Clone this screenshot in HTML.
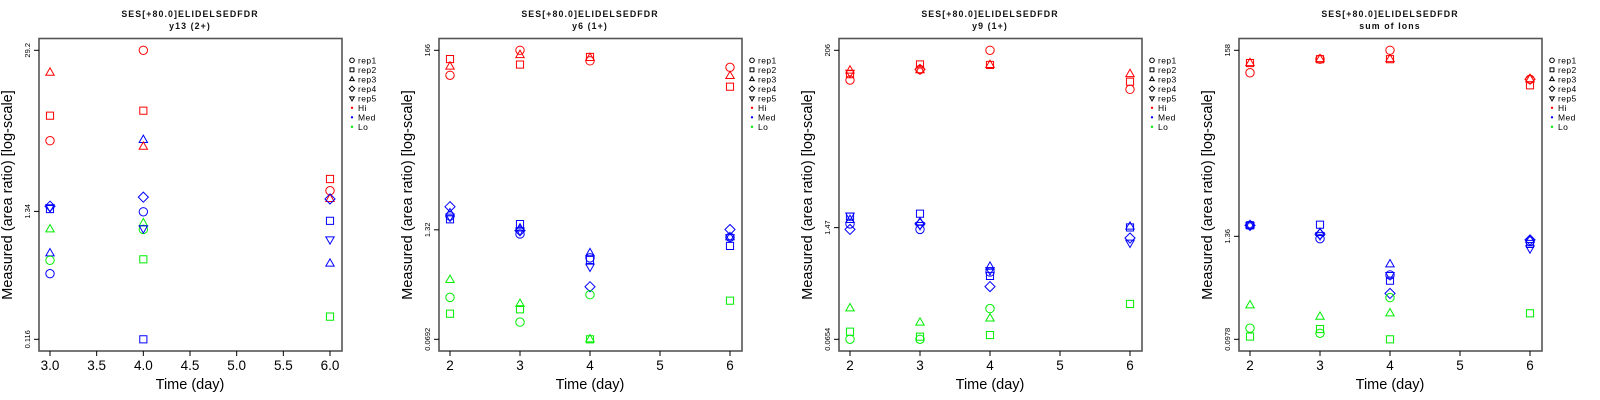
<!DOCTYPE html>
<html><head><meta charset="utf-8">
<style>
html,body{margin:0;padding:0;background:#fff;}
svg{display:block;font-family:"Liberation Sans",sans-serif;}
</style></head>
<body>
<svg id="chart" width="1600" height="400" viewBox="0 0 1600 400" xmlns="http://www.w3.org/2000/svg"></svg>
<script>
// ---- data ----
const panelTitles = ["y13 (2+)", "y6 (1+)", "y9 (1+)", "sum of Ions"];
const peptide = "SES[+80.0]ELIDELSEDFDR";
const xTicks1 = [3.0, 3.5, 4.0, 4.5, 5.0, 5.5, 6.0];
const xTicksN = [2, 3, 4, 5, 6];
const yMin = [0.116, 0.0692, 0.0654, 0.0978];
const yMid = [1.34, 1.32, 1.47, 1.36];
const yMax = [29.2, 166, 206, 158];
const groups = ["Hi", "Med", "Lo"];
const reps = ["rep1", "rep2", "rep3", "rep4", "rep5"];
// rows: [group, rep (1-5), day, value]
const panel1 = [
 ["Hi",3,3,19.0],["Hi",2,3,8.36],["Hi",1,3,5.18],
 ["Med",4,3,1.48],["Med",2,3,1.40],["Med",5,3,1.45],["Lo",3,3,0.951],["Med",3,3,0.60],["Lo",1,3,0.526],["Med",1,3,0.407],
 ["Hi",1,4,29.2],["Hi",2,4,9.2],["Med",3,4,5.25],["Hi",3,4,4.62],["Med",4,4,1.76],["Med",1,4,1.33],["Lo",3,4,1.066],["Lo",1,4,0.95],["Med",5,4,0.97],["Lo",2,4,0.536],["Med",2,4,0.116],
 ["Hi",2,6,2.49],["Hi",1,6,1.99],["Hi",3,6,1.70],["Med",4,6,1.70],["Med",2,6,1.12],["Med",5,6,0.785],["Med",3,6,0.493],["Lo",2,6,0.179]
];
const panel2 = [
 ["Hi",2,2,131],["Hi",3,2,107],["Hi",1,2,84.7],["Med",4,2,2.46],["Med",3,2,2.06],["Med",1,2,1.92],["Med",5,2,1.88],["Med",2,2,1.75],["Lo",3,2,0.342],["Lo",1,2,0.214],["Lo",2,2,0.138],
 ["Hi",1,3,166],["Hi",3,3,146],["Hi",2,3,113],["Med",2,3,1.54],["Med",3,3,1.37],["Med",4,3,1.29],["Med",5,3,1.29],["Med",1,3,1.18],["Lo",3,3,0.179],["Lo",2,3,0.155],["Lo",1,3,0.110],
 ["Hi",2,4,139],["Hi",3,4,135],["Hi",1,4,125],["Med",3,4,0.702],["Med",1,4,0.62],["Med",2,4,0.586],["Med",5,4,0.489],["Med",4,4,0.285],["Lo",1,4,0.230],["Lo",2,4,0.0692],["Lo",3,4,0.0692],
 ["Hi",1,6,105],["Hi",3,6,83],["Hi",2,6,62.3],["Med",4,6,1.33],["Med",3,6,1.08],["Med",1,6,1.08],["Med",5,6,1.08],["Med",2,6,0.854],["Lo",2,6,0.196]
];
const panel3 = [
 ["Hi",3,2,117],["Hi",5,2,110],["Hi",2,2,106],["Hi",1,2,90],["Med",5,2,2.05],["Med",2,2,2.0],["Med",3,2,1.82],["Med",1,2,1.63],["Med",4,2,1.40],["Lo",3,2,0.155],["Lo",2,2,0.0808],["Lo",1,2,0.0654],
 ["Hi",2,3,139],["Hi",1,3,121],["Hi",3,3,118],["Hi",4,3,121],["Med",2,3,2.17],["Med",3,3,1.70],["Med",4,3,1.63],["Med",5,3,1.58],["Med",1,3,1.40],["Lo",3,3,0.104],["Lo",2,3,0.0703],["Lo",1,3,0.0654],
 ["Hi",1,4,206],["Hi",2,4,137],["Hi",3,4,137],["Med",3,4,0.494],["Med",5,4,0.45],["Med",1,4,0.427],["Med",2,4,0.383],["Med",4,4,0.284],["Lo",1,4,0.154],["Lo",3,4,0.117],["Lo",2,4,0.0737],
 ["Hi",3,6,106],["Hi",2,6,85.9],["Hi",1,6,69.4],["Med",3,6,1.51],["Med",2,6,1.48],["Med",4,6,1.10],["Med",5,6,0.967],["Lo",2,6,0.175]
];
const panel4 = [
 ["Hi",2,2,114],["Hi",3,2,114],["Hi",1,2,89],["Med",1,2,1.80],["Med",2,2,1.80],["Med",3,2,1.80],["Med",4,2,1.80],["Med",5,2,1.80],["Lo",3,2,0.233],["Lo",1,2,0.130],["Lo",2,2,0.105],
 ["Hi",1,3,126],["Hi",2,3,126],["Hi",3,3,126],["Med",2,3,1.83],["Med",3,3,1.48],["Med",4,3,1.44],["Med",5,3,1.40],["Med",1,3,1.28],["Lo",3,3,0.174],["Lo",2,3,0.127],["Lo",1,3,0.114],
 ["Hi",1,4,158],["Hi",2,4,126],["Hi",3,4,126],["Med",3,4,0.665],["Med",5,4,0.506],["Med",1,4,0.506],["Med",2,4,0.437],["Med",4,4,0.316],["Lo",1,4,0.284],["Lo",3,4,0.190],["Lo",2,4,0.0978],
 ["Hi",1,6,75.3],["Hi",3,6,75.3],["Hi",4,6,75.3],["Hi",2,6,64.6],["Med",4,6,1.24],["Med",3,6,1.24],["Med",1,6,1.20],["Med",2,6,1.12],["Med",5,6,1.0],["Lo",2,6,0.190]
];
const panels = [panel1, panel2, panel3, panel4];

// ---- drawing ----
const NS = "http://www.w3.org/2000/svg";
const svg = document.getElementById("chart");
const colors = {Hi:"#ff0000", Med:"#0000ff", Lo:"#00ee00"};
function mk(tag, attrs, parent){
  const e = document.createElementNS(NS, tag);
  for (const k in attrs) e.setAttribute(k, attrs[k]);
  (parent||svg).appendChild(e);
  return e;
}
function markerPath(rep, cx, cy, s){
  if (rep===2) return `M${cx-s*0.85},${cy-s*0.85}h${s*1.7}v${s*1.7}h${-s*1.7}z`;
  if (rep===3) return `M${cx},${cy-s*1.15}L${cx+s},${cy+s*0.6}L${cx-s},${cy+s*0.6}z`;
  if (rep===4) return `M${cx},${cy-s*1.2}L${cx+s*1.2},${cy}L${cx},${cy+s*1.2}L${cx-s*1.2},${cy}z`;
  if (rep===5) return `M${cx},${cy+s*1.15}L${cx+s},${cy-s*0.6}L${cx-s},${cy-s*0.6}z`;
  return "";
}
function drawMarker(g, rep, cx, cy, s, color, name){
  let e;
  if (rep===1) e = mk("circle",{cx:cx,cy:cy,r:s,fill:"none",stroke:color,"stroke-width":1},g);
  else e = mk("path",{d:markerPath(rep,cx,cy,s),fill:"none",stroke:color,"stroke-width":1},g);
  
  
  return e;
}

const boxL = 39, boxR = 342, boxT = 38.5, boxB = 351;
const yTop = 50.3, yBot = 339.3, xA = 50, xB = 330;

panels.forEach((data, p) => {
  const off = p * 400;
  const g = mk("g", {});
  
  
  const xd0 = p===0 ? 3 : 2, xd1 = 6;
  const xs = d => off + xA + (d - xd0) / (xd1 - xd0) * (xB - xA);
  const lmin = Math.log(yMin[p]), lmax = Math.log(yMax[p]);
  const ys = v => yTop + (lmax - Math.log(v)) / (lmax - lmin) * (yBot - yTop);

  const t1 = mk("text",{x:off+190,y:17,"text-anchor":"middle","font-size":"8.8","font-weight":"bold","letter-spacing":"1.1",fill:"#111"},g);
  t1.textContent = peptide;
  
  
  const t2 = mk("text",{x:off+190,y:29,"text-anchor":"middle","font-size":"8.8","font-weight":"bold","letter-spacing":"1.1",fill:"#111"},g);
  t2.textContent = panelTitles[p];
  
  

  const box = mk("rect",{x:off+boxL,y:boxT,width:boxR-boxL,height:boxB-boxT,fill:"none",stroke:"#555","stroke-width":1.6},g);
  
  

  const ticks = p===0 ? xTicks1 : xTicksN;
  ticks.forEach(t => {
    const x = xs(t);
    const tk = mk("line",{x1:x,x2:x,y1:boxB,y2:boxB+5,stroke:"#000","stroke-width":1},g);
    
    
    const lb = mk("text",{x:x,y:370,"text-anchor":"middle","font-size":"13.5",fill:"#000"},g);
    lb.textContent = p===0 ? t.toFixed(1) : String(t);
    
    
  });
  const xl = mk("text",{x:off+190,y:389,"text-anchor":"middle","font-size":"14.5",fill:"#000"},g);
  xl.textContent = "Time (day)";
  
  

  [yMin[p], yMid[p], yMax[p]].forEach(v => {
    const y = ys(v);
    const tk = mk("line",{x1:off+boxL-5,x2:off+boxL,y1:y,y2:y,stroke:"#000","stroke-width":1},g);
    
    
    const lb = mk("text",{x:0,y:0,"text-anchor":"middle","font-size":"7.5",fill:"#000",transform:`translate(${off+30},${y}) rotate(-90)`},g);
    lb.textContent = String(v);
    
    
  });
  const yl = mk("text",{x:0,y:0,"text-anchor":"middle","font-size":"14.5",fill:"#000",transform:`translate(${off+12},195) rotate(-90)`},g);
  yl.textContent = "Measured (area ratio) [log-scale]";
  
  

  data.forEach(r => {
    drawMarker(g, r[1], xs(r[2]), ys(r[3]), 4.2, colors[r[0]], 'point-' + r[0].toLowerCase() + '-rep' + r[1]);
  });

  const lg = mk("g", {}, g);
  
  
  const lx = off + 352, ly0 = 60.3, dy = 9.5;
  reps.forEach((rp, i) => {
    const y = ly0 + i*dy;
    drawMarker(lg, i+1, lx, y, 2.3, "#000", 'legend-symbol-' + rp);
    const tx = mk("text",{x:lx+6,y:y+3,"font-size":"8.5","letter-spacing":"0.4",fill:"#000"},lg);
    tx.textContent = rp;
    
    
  });
  groups.forEach((gr, i) => {
    const y = ly0 + (5+i)*dy;
    const d = mk("circle",{cx:lx,cy:y,r:1.2,fill:colors[gr]},lg);
    
    
    const tx = mk("text",{x:lx+6,y:y+3,"font-size":"8.5","letter-spacing":"0.4",fill:"#000"},lg);
    tx.textContent = gr;
    
    
  });
});
</script>
</body></html>
